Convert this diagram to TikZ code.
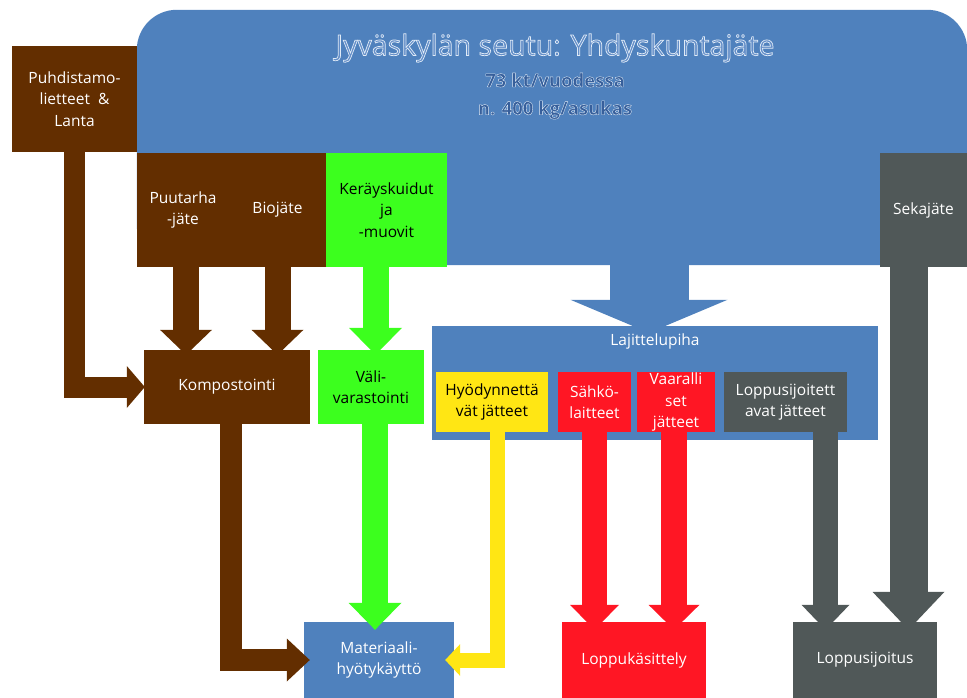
\documentclass[tikz,border=0pt]{standalone}
\usepackage{fontspec}
\setmainfont{Open Sans}
\newfontface\ttlfont{Open Sans}[FakeBold=2.5]
\newfontface\subfont{Open Sans Bold}[FakeBold=2]
\usetikzlibrary{arrows.meta,calc}
\definecolor{bluec}{RGB}{79,129,189}
\definecolor{brownc}{RGB}{99,46,0}
\definecolor{greenc}{RGB}{60,255,30}
\definecolor{redc}{RGB}{255,22,36}
\definecolor{yelc}{RGB}{255,230,20}
\definecolor{grayc}{RGB}{80,88,88}
\definecolor{tfillA}{RGB}{100,142,200}
\definecolor{tfillB}{RGB}{55,95,155}
\newcommand\lightstroke{\special{pdf:code 0.88 0.92 0.97 RG}}
\begin{document}
\begin{tikzpicture}[x=1pt,y=-1pt,
  blk/.style n args={3}{fill=#1, minimum width=#2, minimum height=#3, inner sep=0pt, align=center,
     font=\fontsize{15.5}{21.5}\selectfont, text=white},
  dark/.style={text=black},
  farrow/.style n args={4}{draw=#1, line width=#2, line join=miter,
     -{Triangle[width=#3,length=#4,line width=0pt]}},
  ttl/.style={inner sep=0pt}]
\useasboundingbox (0,0) rectangle (967,698);

% main blue region
\node[minimum width=830pt, minimum height=255pt, inner sep=0pt] (jyv) at (552,137.5) {};
\fill[bluec, rounded corners=40pt] (jyv.south west) rectangle (jyv.north east);
\fill[bluec] (jyv.south west) rectangle (jyv.east);
\node[ttl, font=\fontsize{28.5}{30}\ttlfont, text=tfillA] (title) at (555,48) {\lightstroke Jyväskylän seutu: Yhdyskuntajäte};
\node[ttl, font=\fontsize{18.5}{20}\subfont, text=tfillB] (sub1) at (555,80) {\lightstroke 73 kt/vuodessa};
\node[ttl, font=\fontsize{18.5}{20}\subfont, text=tfillB] (sub2) at (555,110) {\lightstroke n. 400 kg/asukas};

% top boxes
\node[blk={brownc}{125pt}{106pt}] (puh) at (74.5,99) {Puhdistamo-\\lietteet \ \&\\Lanta};
\node[blk={brownc}{92pt}{114pt}] (puu) at (183,210) {Puutarha\\-jäte};
\node[blk={brownc}{97pt}{114pt}] (bio) at (277.5,210) {Biojäte};
\node[blk={greenc}{121pt}{114pt}, dark] (ker) at (386.5,210) {Keräyskuidut\\ja\\-muovit};
\node[blk={grayc}{87pt}{114pt}] (sek) at (923.5,210) {Sekajäte};

% middle boxes
\node[blk={brownc}{166pt}{74pt}] (komp) at (227,387) {Kompostointi};
\node[blk={greenc}{106pt}{74pt}, dark] (vali) at (371,387) {Väli-\\varastointi};
\node[blk={bluec}{446pt}{114pt}, label={[anchor=north, inner sep=0pt, yshift=-8pt, text=white, font=\fontsize{15.5}{21.5}\selectfont]north:Lajittelupiha}] (laj) at (655,383) {};
\node[blk={yelc}{112pt}{60pt}, dark] (hyo) at (492,402) {Hyödynnettä\\vät jätteet};
\node[blk={redc}{73pt}{60pt}] (sah) at (594.5,402) {Sähkö-\\laitteet};
\node[blk={redc}{78pt}{60pt}, label={[anchor=center, inner sep=0pt, align=center, text=white, font=\fontsize{15.5}{21.5}\selectfont]center:Vaaralli\\set\\jätteet}] (vaa) at (676,402) {};
\node[blk={grayc}{123pt}{60pt}] (lsj) at (785.5,402) {Loppusijoitett\\avat jätteet};

% bottom boxes
\node[blk={bluec}{150pt}{76pt}] (mat) at (379,660) {Materiaali-\\hyötykäyttö};
\node[blk={redc}{144pt}{76pt}] (lk) at (634,660) {Loppukäsittely};
\node[blk={grayc}{144pt}{76pt}] (lsi) at (865,660) {Loppusijoitus};

% arrows
\draw[farrow={brownc}{21pt}{42pt}{18pt}] (puh.south) |- ($(komp.west)+(1,0)$);
\draw[farrow={brownc}{26pt}{52pt}{25pt}] ($(puu.south)+(3,0)$) -- ($(puu.south |- komp.north)+(3,5)$);
\draw[farrow={brownc}{26pt}{52pt}{25pt}] (bio.south) -- ($(bio.south |- komp.north)+(0,5)$);
\draw[farrow={greenc}{26pt}{53pt}{27pt}] ($(ker.south)+(-11,0)$) -- ($(ker.south |- vali.north)+(-11,5)$);
\draw[farrow={greenc}{26pt}{53pt}{27pt}] ($(vali.south)+(4,0)$) -- ($(vali.south |- mat.north)+(4,8)$);
\draw[farrow={brownc}{22pt}{43pt}{23pt}] ($(komp.south)+(4,0)$) |- ($(mat.west)+(6,0)$);
\draw[farrow={yelc}{15pt}{32pt}{15pt}] ($(hyo.south)+(5,0)$) |- ($(mat.east)+(-9,0)$);
\draw[farrow={bluec}{79pt}{157pt}{33pt}] ($(laj.north |- jyv.south)+(-6,0)$) -- ($(laj.north)+(-6,7)$);
\draw[farrow={redc}{25pt}{49pt}{25pt}] (sah.south) -- ($(sah.south |- lk.north)+(0,8)$);
\draw[farrow={redc}{26pt}{51pt}{25pt}] ($(vaa.south)+(-2,0)$) -- ($(vaa.south |- lk.north)+(-2,8)$);
\draw[farrow={grayc}{25pt}{48pt}{25pt}] ($(lsj.south)+(40,0)$) -- ($(lsj.south |- lsi.north)+(40,8)$);
\draw[farrow={grayc}{38pt}{72pt}{38pt}] ($(sek.south)+(-15,0)$) -- ($(sek.south |- lsi.north)+(-15,8)$);
\end{tikzpicture}
\end{document}
